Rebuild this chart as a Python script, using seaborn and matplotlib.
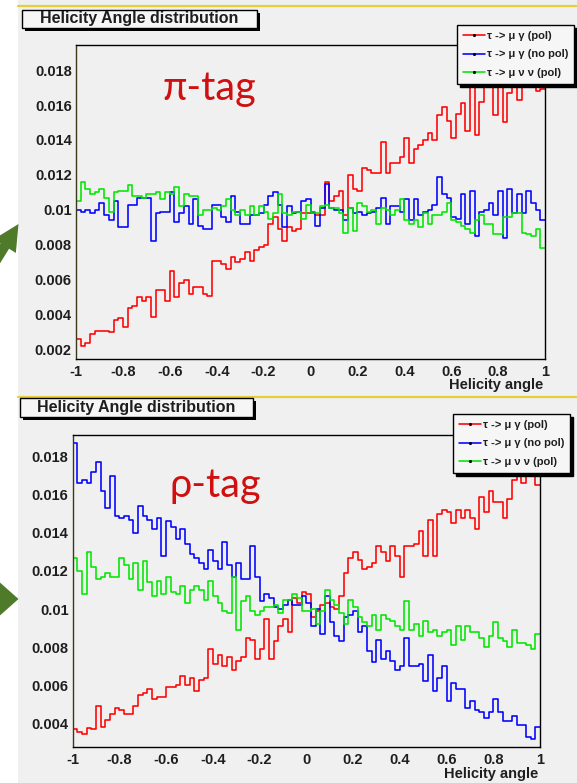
import numpy as np
import pandas as pd
import matplotlib
matplotlib.use("Agg")
import matplotlib.pyplot as plt
import seaborn as sns
from matplotlib.patches import Rectangle, Polygon
from matplotlib.lines import Line2D
from matplotlib.ticker import MultipleLocator, FixedLocator, FuncFormatter

# ---------------- data (100 bins on [-1, 1]) ----------------
n_bins = 100
x_min, x_max = -1.0, 1.0

series_labels = ["τ -> μ γ (pol)", "τ -> μ γ (no pol)", "τ -> μ ν ν (pol)"]
series_colors = ["#ff0000", "#0000ff", "#00e600"]

pi_pol = [0.0026,0.0022,0.0024,0.0029,0.0031,0.0031,0.0031,0.0030,0.0037,0.0038,
          0.0033,0.0044,0.0045,0.0050,0.0048,0.0050,0.0039,0.0054,0.0054,0.0048,
          0.0065,0.0050,0.0058,0.0060,0.0052,0.0056,0.0056,0.0052,0.0051,0.0071,
          0.0071,0.0069,0.0066,0.0073,0.0070,0.0072,0.0076,0.0071,0.0077,0.0079,
          0.0080,0.0092,0.0096,0.0089,0.0082,0.0090,0.0088,0.0089,0.0098,0.0098,
          0.0099,0.0097,0.0097,0.0116,0.0105,0.0108,0.0111,0.0097,0.0120,0.0112,
          0.0111,0.0124,0.0123,0.0121,0.0121,0.0139,0.0121,0.0127,0.0127,0.0130,
          0.0141,0.0127,0.0135,0.0137,0.0140,0.0144,0.0140,0.0154,0.0159,0.0151,
          0.0141,0.0155,0.0161,0.0145,0.0178,0.0143,0.0162,0.0178,0.0181,0.0154,
          0.0180,0.0150,0.0167,0.0175,0.0163,0.0180,0.0176,0.0173,0.0168,0.0169]
pi_nopol = [0.0100,0.0099,0.0100,0.0098,0.0100,0.0104,0.0097,0.0094,0.0105,0.0090,
            0.0090,0.0103,0.0103,0.0107,0.0107,0.0107,0.0082,0.0098,0.0099,0.0099,
            0.0110,0.0093,0.0098,0.0102,0.0092,0.0106,0.0091,0.0089,0.0089,0.0103,
            0.0103,0.0096,0.0093,0.0108,0.0099,0.0092,0.0092,0.0097,0.0097,0.0098,
            0.0103,0.0108,0.0110,0.0103,0.0090,0.0102,0.0098,0.0099,0.0105,0.0106,
            0.0098,0.0091,0.0101,0.0115,0.0101,0.0100,0.0100,0.0094,0.0101,0.0098,
            0.0099,0.0097,0.0098,0.0099,0.0101,0.0107,0.0092,0.0102,0.0102,0.0099,
            0.0106,0.0094,0.0106,0.0097,0.0099,0.0100,0.0103,0.0119,0.0109,0.0107,
            0.0096,0.0095,0.0109,0.0092,0.0111,0.0085,0.0099,0.0100,0.0104,0.0097,
            0.0111,0.0084,0.0112,0.0098,0.0109,0.0098,0.0111,0.0104,0.0100,0.0094]
pi_mununu = [0.0105,0.0116,0.0112,0.0109,0.0110,0.0112,0.0107,0.0099,0.0110,0.0111,
             0.0111,0.0114,0.0108,0.0108,0.0107,0.0109,0.0109,0.0110,0.0106,0.0110,
             0.0109,0.0113,0.0102,0.0109,0.0108,0.0108,0.0097,0.0100,0.0100,0.0101,
             0.0100,0.0102,0.0106,0.0100,0.0097,0.0100,0.0097,0.0102,0.0097,0.0102,
             0.0099,0.0095,0.0098,0.0109,0.0098,0.0097,0.0099,0.0099,0.0095,0.0103,
             0.0098,0.0098,0.0102,0.0103,0.0101,0.0101,0.0098,0.0087,0.0101,0.0088,
             0.0104,0.0102,0.0099,0.0100,0.0092,0.0101,0.0100,0.0097,0.0100,0.0106,
             0.0094,0.0092,0.0094,0.0090,0.0098,0.0092,0.0097,0.0097,0.0099,0.0104,
             0.0094,0.0093,0.0091,0.0089,0.0087,0.0094,0.0097,0.0092,0.0092,0.0086,
             0.0086,0.0096,0.0096,0.0098,0.0098,0.0087,0.0086,0.0085,0.0089,0.0078]

rho_pol = [0.0037,0.00356,0.00344,0.00374,0.0037,0.0049,0.0038,0.0042,0.0045,0.0048,
           0.0047,0.0045,0.0045,0.0049,0.0055,0.0056,0.0058,0.0053,0.0054,0.0054,
           0.0059,0.0059,0.0060,0.0065,0.0060,0.0064,0.0057,0.0063,0.0064,0.0079,
           0.0071,0.0076,0.0070,0.0075,0.0068,0.0073,0.0075,0.0085,0.0084,0.0074,
           0.0079,0.0095,0.0074,0.0083,0.0091,0.0095,0.0088,0.0106,0.0103,0.0109,
           0.0108,0.0096,0.0099,0.0102,0.0103,0.0101,0.0100,0.0107,0.0119,0.0127,
           0.0130,0.0126,0.0121,0.0122,0.0124,0.0133,0.0130,0.0125,0.0133,0.0128,
           0.0117,0.0133,0.0133,0.0134,0.0141,0.0128,0.0147,0.0128,0.0150,0.0152,
           0.0151,0.0145,0.0152,0.0148,0.0152,0.0148,0.0142,0.0159,0.0151,0.0162,
           0.0156,0.0156,0.0148,0.0158,0.0168,0.0170,0.0166,0.0176,0.0180,0.0165]
rho_nopol = [0.0187,0.0166,0.0168,0.0166,0.0172,0.0177,0.0162,0.0153,0.0170,0.0149,
             0.0148,0.0149,0.0147,0.0140,0.0154,0.0149,0.0147,0.0142,0.0148,0.0128,
             0.0146,0.0143,0.0137,0.0142,0.0134,0.0129,0.0127,0.0124,0.0121,0.0131,
             0.0125,0.0121,0.0135,0.0123,0.0117,0.0124,0.0116,0.0116,0.0133,0.0117,
             0.0104,0.0108,0.0106,0.0101,0.0100,0.0102,0.0105,0.0102,0.0102,0.0107,
             0.0103,0.0091,0.0100,0.0087,0.0107,0.0093,0.0086,0.0083,0.0096,0.0097,
             0.0099,0.0088,0.0091,0.0078,0.0072,0.0084,0.0074,0.0078,0.0073,0.0068,
             0.0070,0.0085,0.0070,0.0070,0.0071,0.0062,0.0076,0.0057,0.0064,0.0070,
             0.0052,0.0061,0.0058,0.0058,0.0048,0.0052,0.0047,0.0046,0.0043,0.0046,
             0.0053,0.0046,0.0041,0.0041,0.0044,0.0039,0.0039,0.0033,0.0032,0.0038]
rho_mununu = [0.0127,0.0120,0.0108,0.0130,0.0122,0.0116,0.0117,0.0119,0.0117,0.0117,
              0.0127,0.0123,0.0116,0.0124,0.0110,0.0125,0.0114,0.0107,0.0115,0.0108,
              0.0117,0.0109,0.0108,0.0112,0.0103,0.0110,0.0112,0.0110,0.0105,0.0115,
              0.0107,0.0103,0.0099,0.0098,0.0117,0.0089,0.0104,0.0107,0.0099,0.0097,
              0.0099,0.0101,0.0101,0.0102,0.0098,0.0105,0.0105,0.0108,0.0106,0.0099,
              0.0099,0.0100,0.0092,0.0099,0.0110,0.0105,0.0102,0.0098,0.0092,0.0105,
              0.0101,0.0096,0.0093,0.0091,0.0097,0.0089,0.0097,0.0095,0.0094,0.0091,
              0.0089,0.0104,0.0089,0.0092,0.0086,0.0094,0.0088,0.0089,0.0086,0.0088,
              0.0089,0.0081,0.0091,0.0084,0.0091,0.0088,0.0088,0.0085,0.0080,0.0086,
              0.0093,0.0085,0.0083,0.0080,0.0089,0.0082,0.0082,0.0081,0.0079,0.0087]

x_ticks = [-1, -0.8, -0.6, -0.4, -0.2, 0, 0.2, 0.4, 0.6, 0.8, 1]
pi_yticks = [0.002, 0.004, 0.006, 0.008, 0.010, 0.012, 0.014, 0.016, 0.018]
rho_yticks = [0.004, 0.006, 0.008, 0.010, 0.012, 0.014, 0.016, 0.018]
title_text = "Helicity Angle distribution"
xlabel_text = "Helicity angle"

# ---------------- figure ----------------
W, H = 577, 783
sns.set_style("white")
plt.rcParams["font.family"] = ["Liberation Sans", "DejaVu Sans"]

fig = plt.figure(figsize=(W / 100, H / 100), dpi=100)
fig.patch.set_facecolor("white")


def fx(x):
    return x / W


def fy(y):
    return 1 - y / H


CANVAS = "#f0f0f0"
fig.add_artist(Rectangle((fx(18), 0), 1, 1, transform=fig.transFigure,
                         fc=CANVAS, ec="none", zorder=-20))
for yy in (5.5, 397):
    fig.add_artist(Line2D([fx(18), 1], [fy(yy), fy(yy)], transform=fig.transFigure,
                          color="#e6cf3a", lw=1.6, zorder=-10))

edges = np.linspace(x_min, x_max, n_bins + 1)
centers = 0.5 * (edges[:-1] + edges[1:])

panels = [
    dict(rect=(76, 45, 545, 359), ylim=(0.00148, 0.01943), yticks=pi_yticks,
         series=[pi_pol, pi_nopol, pi_mununu], tag="π-tag", tag_xy=(163, 100),
         title_box=(22, 10, 257, 28), legend_anchor=(574, 25), xlabel_xy=(543, 385)),
    dict(rect=(72.7, 435, 540, 747), ylim=(0.00276, 0.01914), yticks=rho_yticks,
         series=[rho_pol, rho_nopol, rho_mununu], tag="ρ-tag", tag_xy=(170, 497),
         title_box=(20, 398, 253, 417), legend_anchor=(570, 414), xlabel_xy=(538, 774)),
]


def yfmt(v, pos):
    return f"{v:.3f}".rstrip("0")


def xfmt(v, pos):
    s = f"{v:.1f}".rstrip("0").rstrip(".")
    if s in ("-0", ""):
        s = "0"
    return s


TXT = "#1e1e1e"
for p in panels:
    x0, y0, x1, y1 = p["rect"]
    ax = fig.add_axes([fx(x0), fy(y1), (x1 - x0) / W, (y1 - y0) / H])
    ax.set_facecolor(CANVAS)
    for vals, col in zip(p["series"], series_colors):
        df = pd.DataFrame({"angle": centers, "w": vals})
        sns.histplot(data=df, x="angle", weights="w", bins=n_bins,
                     binrange=(x_min, x_max), element="step",
                     fill=False, color=col, linewidth=1.15, ax=ax)
    ax.set_xlim(x_min, x_max)
    ax.set_ylim(*p["ylim"])
    ax.set_xlabel("")
    ax.set_ylabel("")
    ax.xaxis.set_major_locator(FixedLocator(x_ticks))
    ax.xaxis.set_minor_locator(MultipleLocator(0.05))
    ax.yaxis.set_major_locator(FixedLocator(p["yticks"]))
    ax.yaxis.set_minor_locator(MultipleLocator(0.0005))
    ax.xaxis.set_major_formatter(FuncFormatter(xfmt))
    ax.yaxis.set_major_formatter(FuncFormatter(yfmt))
    ax.tick_params(which="both", direction="in", color="black", labelsize=10.5,
                   labelcolor=TXT, top=False, right=False)
    ax.tick_params(axis="x", which="major", length=5.8, width=0.9, pad=4)
    ax.tick_params(axis="x", which="minor", length=2.9, width=0.8)
    ax.tick_params(axis="y", which="major", length=10, width=0.9, pad=3)
    ax.tick_params(axis="y", which="minor", length=5, width=0.8)
    for lab in ax.get_xticklabels() + ax.get_yticklabels():
        lab.set_fontweight("bold")
    for sp in ax.spines.values():
        sp.set_color("black")
        sp.set_linewidth(1.0)
    ax.spines["left"].set_color("#3a3a1a")

    fig.text(fx(p["xlabel_xy"][0]), fy(p["xlabel_xy"][1]), xlabel_text, ha="right",
             va="center", fontsize=10.5, fontweight="bold", color=TXT)

    bx0, by0, bx1, by1 = p["title_box"]
    fig.add_artist(Rectangle((fx(bx0 + 2.5), fy(by1 + 2.5)), (bx1 - bx0) / W, (by1 - by0) / H,
                             transform=fig.transFigure, fc="black", ec="none", zorder=5))
    fig.add_artist(Rectangle((fx(bx0), fy(by1)), (bx1 - bx0) / W, (by1 - by0) / H,
                             transform=fig.transFigure, fc="#f6f6f6", ec="black", lw=1.0, zorder=6))
    fig.text(fx((bx0 + bx1) / 2), fy((by0 + by1) / 2), title_text, ha="center", va="center",
             fontsize=11.5, fontweight="bold", color=TXT, zorder=7)

    fig.text(fx(p["tag_xy"][0]), fy(p["tag_xy"][1]), p["tag"], ha="left", va="baseline",
             fontsize=28.5, color="#d01010", family=["Lato", "Open Sans", "DejaVu Sans"])

    handles = [Line2D([0], [0], color=c, lw=1.15, marker=".", markersize=2.5,
                      markerfacecolor="black", markeredgecolor="black") for c in series_colors]
    leg = ax.legend(handles, series_labels, loc="upper right",
                    bbox_to_anchor=(fx(p["legend_anchor"][0]), fy(p["legend_anchor"][1])),
                    bbox_transform=fig.transFigure, borderaxespad=0, frameon=True,
                    fancybox=False, shadow={"color": "black", "alpha": 1.0},
                    prop={"size": 8, "weight": "bold"}, handlelength=2.0,
                    handletextpad=0.2, labelspacing=0.8, borderpad=0.5)
    leg.get_frame().set_edgecolor("black")
    leg.get_frame().set_linewidth(1.0)
    leg.get_frame().set_facecolor("#f6f6f6")
    for t in leg.get_texts():
        t.set_color(TXT)
    leg.set_zorder(10)

ARROW = "#4e7a2a"
tip = np.array([18.5, 224.0])
d = np.array([28.5, -46.0]); d = d / np.linalg.norm(d)
nrm = np.array([-d[1], d[0]])
base = tip - 26 * d
pts = [tip, base + 13 * nrm, base + 5 * nrm, base + 5 * nrm - 45 * d,
       base - 5 * nrm - 45 * d, base - 5 * nrm, base - 13 * nrm]
fig.add_artist(Polygon([(fx(px), fy(py)) for px, py in pts], closed=True,
                       transform=fig.transFigure, fc=ARROW, ec="none", zorder=3))
tri = [(18.5, 599), (-4, 579), (-4, 619)]
fig.add_artist(Polygon([(fx(px), fy(py)) for px, py in tri], closed=True,
                       transform=fig.transFigure, fc=ARROW, ec="none", zorder=3))

fig.savefig("out.png", dpi=100, facecolor=fig.get_facecolor())
